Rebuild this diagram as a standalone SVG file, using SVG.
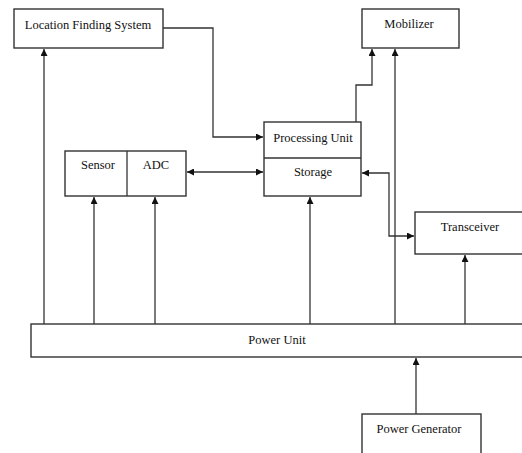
<svg xmlns="http://www.w3.org/2000/svg" width="522" height="453" viewBox="0 0 522 453">
<defs>
<marker id="ah" viewBox="0 0 10 10" refX="10" refY="5" markerWidth="7" markerHeight="7" markerUnits="userSpaceOnUse" orient="auto-start-reverse">
<path d="M0,0 L10,5 L0,10 z" fill="#111"/>
</marker>
<style>
.box{fill:#fff;stroke:#333;stroke-width:1.4}
.ln{fill:none;stroke:#333;stroke-width:1.3}
.t{font-family:'Liberation Serif','DejaVu Serif',serif;font-size:12.5px;fill:#111;text-anchor:middle}
</style>
</defs>
<rect width="522" height="453" fill="#fff"/>
<g id="connectors">
<path class="ln" d="M163,28 H213 V137 H263" marker-end="url(#ah)"/>
<path class="ln" d="M44,324 V49" marker-end="url(#ah)"/>
<path class="ln" d="M356,122 V85 H372 V49" marker-end="url(#ah)"/>
<path class="ln" d="M395,324 V49" marker-end="url(#ah)"/>
<path class="ln" d="M187,172 H263" marker-start="url(#ah)" marker-end="url(#ah)"/>
<path class="ln" d="M362,173 H389 V236 H414" marker-start="url(#ah)" marker-end="url(#ah)"/>
<path class="ln" d="M94,324 V197" marker-end="url(#ah)"/>
<path class="ln" d="M155,324 V197" marker-end="url(#ah)"/>
<path class="ln" d="M310,324 V197" marker-end="url(#ah)"/>
<path class="ln" d="M465,324 V255" marker-end="url(#ah)"/>
<path class="ln" d="M416,414 V358" marker-end="url(#ah)"/>
</g>
<g id="location">
<rect class="box" x="14" y="9" width="149" height="39"/>
<text class="t" font-family="Liberation Serif, serif" x="88" y="28.5">Location Finding System</text>
</g>
<g id="mobilizer">
<rect class="box" x="362" y="9" width="97" height="39"/>
<text class="t" font-family="Liberation Serif, serif" x="409" y="28">Mobilizer</text>
</g>
<g id="processing">
<rect class="box" x="264" y="122" width="97" height="74"/>
<line class="ln" x1="264" y1="158" x2="361" y2="158"/>
<text class="t" font-family="Liberation Serif, serif" x="313" y="142">Processing Unit</text>
<text class="t" font-family="Liberation Serif, serif" x="313" y="176">Storage</text>
</g>
<g id="sensor-adc">
<rect class="box" x="65" y="151" width="121" height="45"/>
<line class="ln" x1="127" y1="151" x2="127" y2="196"/>
<text class="t" font-family="Liberation Serif, serif" x="98" y="169">Sensor</text>
<text class="t" font-family="Liberation Serif, serif" x="156" y="169">ADC</text>
</g>
<g id="transceiver">
<rect class="box" x="415" y="212" width="120" height="42"/>
<text class="t" font-family="Liberation Serif, serif" x="470" y="231">Transceiver</text>
</g>
<g id="power-unit">
<rect class="box" x="31" y="324" width="505" height="33"/>
<text class="t" font-family="Liberation Serif, serif" x="277" y="344">Power Unit</text>
</g>
<g id="power-generator">
<rect class="box" x="362" y="414" width="119" height="50"/>
<text class="t" font-family="Liberation Serif, serif" x="419" y="433">Power Generator</text>
</g>
</svg>
